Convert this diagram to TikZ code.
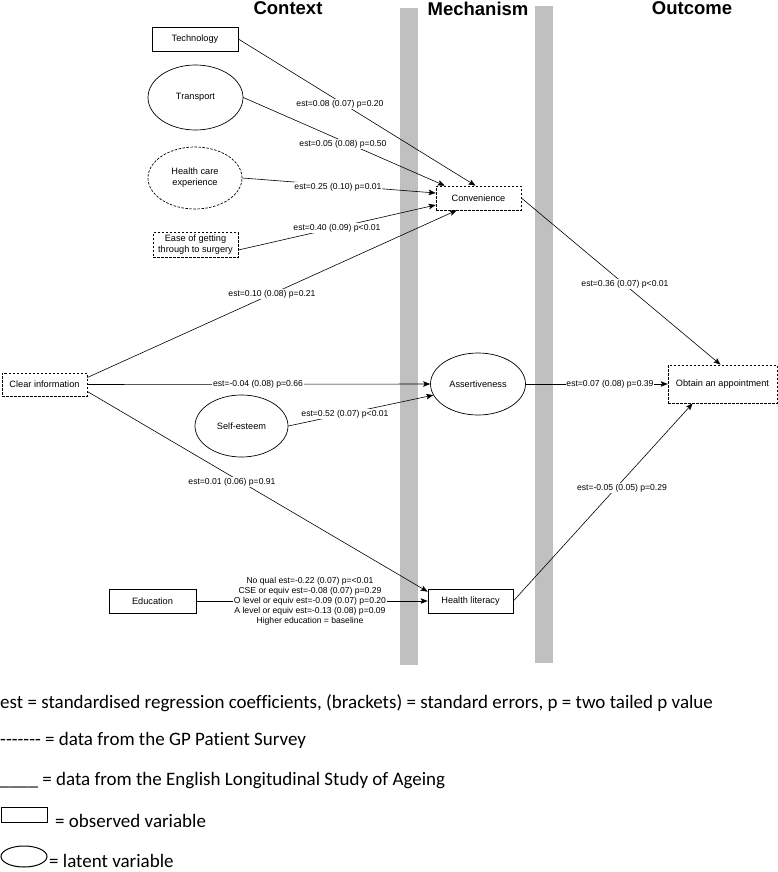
\documentclass[tikz,border=0pt]{standalone}
\usepackage{fontspec}
\setmainfont{Liberation Sans}
\newfontfamily\legendfont[Ligatures=NoCommon]{Carlito}
\usetikzlibrary{arrows.meta,shapes.geometric}
\definecolor{bargray}{RGB}{192,192,192}
\begin{document}
\begin{tikzpicture}[x=1pt,y=-1pt,
  box/.style={draw, rectangle, line width=0.7pt, inner sep=0pt, align=center,
              font=\fontsize{9.2}{11}\selectfont, fill=white},
  oval/.style={draw, ellipse, line width=0.7pt, inner sep=0pt, align=center,
              font=\fontsize{9.2}{11}\selectfont, fill=white},
  gpps/.style={dash pattern=on 2.5pt off 1.5pt},
  lbl/.style={fill=white, inner sep=0.6pt, font=\fontsize{8.6}{10}\selectfont, align=center},
  arr/.style={-{Stealth[length=7pt,width=5.5pt,inset=1.5pt]}, line width=0.6pt},
  ttl/.style={font=\fontsize{18.5}{20}\selectfont\bfseries, inner sep=0pt},
  legtext/.style={font=\legendfont\fontsize{19}{22}\selectfont, inner sep=0pt, anchor=base west}
]
\useasboundingbox (0,0) rectangle (778,872);

% column bars
\fill[bargray] (400,8) rectangle (418,665);
\fill[bargray] (535,6) rectangle (553,663);

% titles
\node[ttl] (tctx) at (288,8.5) {Context};
\node[ttl] (tmech) at (478,8.5) {Mechanism};
\node[ttl] (tout) at (692,8.5) {Outcome};

% nodes
\node[box, minimum width=86pt, minimum height=24pt] (tech) at (195,39) {Technology};
\node[oval, minimum width=95pt, minimum height=65pt] (trans) at (195.5,97.5) {Transport};
\node[oval, gpps, minimum width=94pt, minimum height=62pt] (hce) at (195,178) {Health care\\experience};
\node[box, gpps, minimum width=85pt, minimum height=25pt] (ease) at (195.5,245) {Ease of getting\\through to surgery};
\node[box, gpps, minimum width=85pt, minimum height=24pt] (conv) at (478.5,198) {Convenience};
\node[box, gpps, minimum width=85pt, minimum height=23pt] (clear) at (44.5,384.5) {Clear information};
\node[oval, minimum width=95pt, minimum height=62pt] (assert) at (478,384) {Assertiveness};
\node[oval, minimum width=93pt, minimum height=62pt] (self) at (241.5,426) {Self-esteem};
\node[box, gpps, minimum width=109pt, minimum height=38pt] (obtain) at (722.5,384) {Obtain an appointment};
\node[box, minimum width=87pt, minimum height=24pt] (edu) at (152.5,601) {Education};
\node[box, minimum width=85pt, minimum height=24pt] (hl) at (470.5,601) {Health literacy};

% connectors
\draw[arr] (tech.east) -- ([xshift=-3pt]conv.north);
\draw[arr] (trans.east) -- ([xshift=9pt]conv.north west);
\draw[arr] (hce.east) -- ([yshift=5pt]conv.west);
\draw[arr] ([yshift=-5pt]ease.east) -- ([yshift=-7pt]conv.west);
\draw[arr] ([yshift=7pt]clear.east) -- ([xshift=21pt]conv.south west);
\draw[arr] (clear.east) -- (assert.west);
\draw[arr] (self.east) -- (assert.194);
\draw[arr] ([yshift=-7pt]clear.east) -- ([yshift=-3pt]hl.north west);
\draw[arr] (edu.east) -- (hl.west);
\draw[arr] (conv.east) -- ([xshift=-2pt]obtain.north);
\draw[arr] (assert.east) -- (obtain.west);
\draw[arr] (hl.east) -- ([xshift=25pt]obtain.south west);

% labels
\node[lbl] (l1) at (340,104) {est=0.08 (0.07) p=0.20};
\node[lbl] (l2) at (343,144) {est=0.05 (0.08) p=0.50};
\node[lbl] (l3) at (338,187) {est=0.25 (0.10) p=0.01};
\node[lbl] (l4) at (337,228) {est=0.40 (0.09) p<0.01};
\node[lbl] (l5) at (272,294) {est=0.10 (0.08) p=0.21};
\node[lbl] (l6) at (258,384) {est=-0.04 (0.08) p=0.66};
\node[lbl] (l7) at (345,414) {est=0.52 (0.07) p<0.01};
\node[lbl] (l8) at (232,482) {est=0.01 (0.06) p=0.91};
\node[lbl] (l9) at (310,601) {No qual est=-0.22 (0.07) p=<0.01\\CSE or equiv est=-0.08 (0.07) p=0.29\\O level or equiv est=-0.09 (0.07) p=0.20\\A level or equiv est=-0.13 (0.08) p=0.09\\Higher education = baseline};
\node[lbl] (l10) at (625,284) {est=0.36 (0.07) p<0.01};
\node[lbl] (l11) at (610,384) {est=0.07 (0.08) p=0.39};
\node[lbl] (l12) at (622,488) {est=-0.05 (0.05) p=0.29};

% legend
\node[legtext] (lg1) at (0,708) {est = standardised regression coefficients, (brackets) = standard errors, p = two tailed p value};
\node[legtext] (lg2) at (0,745) {-{}-{}-{}-{}-{}-{}- = data from the GP Patient Survey};
\node[legtext] (lg3) at (0,785) {\_\_\_\_ = data from the English Longitudinal Study of Ageing};
\node[draw, line width=1pt, rectangle, minimum width=46pt, minimum height=15pt, inner sep=0pt] (lgrect) at (24,814.5) {};
\node[legtext] (lg4) at (55,827) {= observed variable};
\node[draw, line width=1pt, ellipse, minimum width=46pt, minimum height=21pt, inner sep=0pt] (lgell) at (24,856.5) {};
\node[legtext] (lg5) at (49,867) {= latent variable};
\end{tikzpicture}
\end{document}
